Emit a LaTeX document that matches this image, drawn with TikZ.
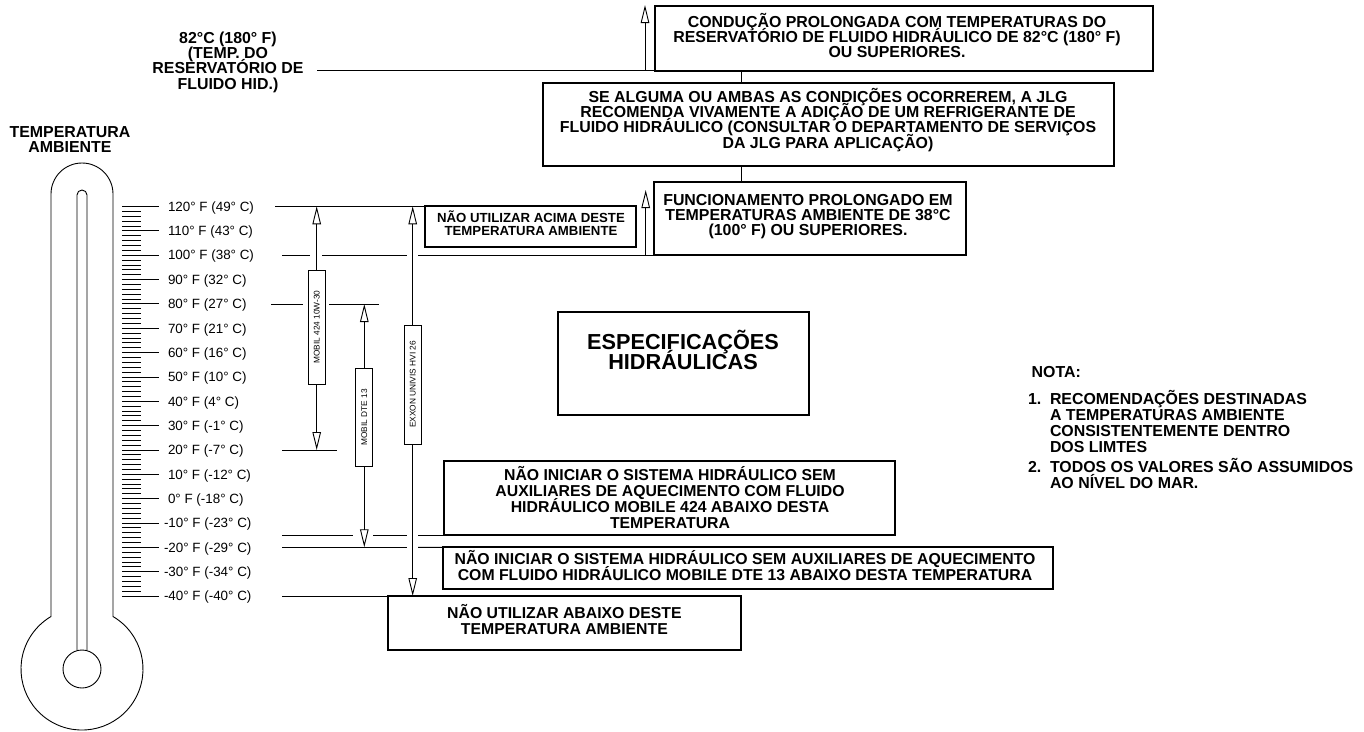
\documentclass[tikz,border=0pt]{standalone}
\usepackage{fontspec}
\setmainfont{Liberation Sans}
\usetikzlibrary{arrows.meta,fit}
\newcommand\mylsl{\lineskiplimit -30pt\relax}
\begin{document}
\begin{tikzpicture}[x=1pt,y=-1pt,
  every node/.style={inner sep=0pt, outer sep=0pt},
  bx/.style={draw, line width=2pt},
  ln/.style={line width=0.9pt},
  tip/.style={-{Triangle[open,length=18pt,width=8.5pt]}},
  dtip/.style={{Triangle[open,length=18pt,width=8.5pt]}-{Triangle[open,length=18pt,width=8.5pt]}},
  tA/.style={align=center, anchor=base, font=\bfseries\fontsize{15.9}{15.2}\selectfont\mylsl},
  tB/.style={align=center, anchor=base, font=\bfseries\fontsize{15.8}{15.8}\selectfont\mylsl},
  tC/.style={align=center, anchor=base, font=\bfseries\fontsize{13.2}{13.4}\selectfont\mylsl},
  tD/.style={align=center, anchor=base, font=\bfseries\fontsize{21.7}{20}\selectfont\mylsl},
  tE/.style={align=center, anchor=base, font=\bfseries\fontsize{15.9}{15.3}\selectfont\mylsl},
  tN/.style={align=left, anchor=base west, font=\bfseries\fontsize{15.9}{16}\selectfont\mylsl},
  lab/.style={anchor=base west, font=\fontsize{13.4}{14}\selectfont},
  vb/.style={draw, line width=0.9pt, fill=white, rotate=90, minimum height=17pt, font=\fontsize{8.3}{9}\selectfont},
]
\useasboundingbox (0,0) rectangle (1364,731);

% thermometer
\draw[ln] (51,616.5) -- (51,194) arc[start angle=180,end angle=360,radius=31]
  -- (113,616.5) arc[start angle=-59.45,end angle=239.45,radius=61] -- cycle;
\draw[ln] (77,650.7) -- (77,195) arc[start angle=180,end angle=360,radius=5] -- (87,650.7);
\draw[ln] (82,669) circle[radius=19];

% ticks
\foreach \t in {-40,-38,...,120}{
  \pgfmathsetmacro\yy{206.5+(120-\t)*2.4344}
  \pgfmathsetmacro\xe{mod(\t,10)==0 ? 159 : 141}
  \draw[line width=0.8pt] (122,\yy) -- (\xe,\yy);
}
% scale labels
\foreach \t/\nm/\txt/\xo in {
  120/a/{120° F (49° C)}/168, 110/b/{110° F (43° C)}/168, 100/c/{100° F (38° C)}/168,
  90/d/{90° F (32° C)}/168, 80/e/{80° F (27° C)}/168, 70/f/{70° F (21° C)}/168,
  60/g/{60° F (16° C)}/168, 50/h/{50° F (10° C)}/168, 40/i/{40° F (4° C)}/168,
  30/j/{30° F (-1° C)}/168, 20/k/{20° F (-7° C)}/168, 10/l/{10° F (-12° C)}/168,
  0/m/{0° F (-18° C)}/168, -10/n/{-10° F (-23° C)}/164, -20/o/{-20° F (-29° C)}/164,
  -30/p/{-30° F (-34° C)}/164, -40/q/{-40° F (-40° C)}/164}{
  \pgfmathsetmacro\yy{206.5+(120-\t)*2.4344}
  \node[lab] (s\nm) at (\xo,\yy+4.8) {\txt};
}

% titles (base anchor = baseline of the last line)
\node[tE] (amb) at (70,152.4) {TEMPERATURA\\AMBIENTE};
\node[tE] (resv) at (228,89) {82°C (180° F)\\(TEMP. DO\\RESERVATÓRIO DE\\FLUIDO HID.)};

% boxes
\node[bx, fit={(655,6) (1153,70.7)}] (cond) {};
\node[tA] (condt) at (897,57.8) {CONDUÇÃO PROLONGADA COM TEMPERATURAS DO\\RESERVATÓRIO DE FLUIDO HIDRÁULICO DE 82°C (180° F)\\OU SUPERIORES.};
\node[bx, fit={(543,83.3) (1114,166)}] (seal) {};
\node[tA] (sealt) at (828,148) {SE ALGUMA OU AMBAS AS CONDIÇÕES OCORREREM, A JLG\\RECOMENDA VIVAMENTE A ADIÇÃO DE UM REFRIGERANTE DE\\FLUIDO HIDRÁULICO (CONSULTAR O DEPARTAMENTO DE SERVIÇOS\\DA JLG PARA APLICAÇÃO)};
\node[bx, fit={(654,181.7) (965.5,255)}] (func) {};
\node[tA] (funct) at (808,235.7) {FUNCIONAMENTO PROLONGADO EM\\TEMPERATURAS AMBIENTE DE 38°C\\(100° F) OU SUPERIORES.};
\node[bx, fit={(425,206.3) (636,246.7)}] (acima) {};
\node[tC] (acimat) at (531,235.4) {NÃO UTILIZAR ACIMA DESTE\\TEMPERATURA AMBIENTE};
\node[bx, fit={(558,311.7) (809,415)}] (espec) {};
\node[tD] (espect) at (683,369.5) {ESPECIFICAÇÕES\\HIDRÁULICAS};
\node[bx, fit={(444,461) (895,535)}] (ini4) {};
\node[tB] (ini4t) at (670,528.1) {NÃO INICIAR O SISTEMA HIDRÁULICO SEM\\AUXILIARES DE AQUECIMENTO COM FLUIDO\\HIDRÁULICO MOBILE 424 ABAIXO DESTA\\TEMPERATURA};
\node[bx, fit={(442.7,547.3) (1053,589)}] (inid) {};
\node[tB] (inidt) at (745,580) {NÃO INICIAR O SISTEMA HIDRÁULICO SEM AUXILIARES DE AQUECIMENTO\\COM FLUIDO HIDRÁULICO MOBILE DTE 13 ABAIXO DESTA TEMPERATURA};
\node[bx, fit={(388,596) (741,650)}] (abx) {};
\node[tB] (abxt) at (564.4,634.5) {NÃO UTILIZAR ABAIXO DESTE\\TEMPERATURA AMBIENTE};

% note
\node[tN] (nota) at (1031.7,377.4) {NOTA:};
\node[tN] (n1) at (1028,404.7) {1.};
\node[tN] (n1t) at (1050,452.7) {RECOMENDAÇÕES DESTINADAS\\A TEMPERATURAS AMBIENTE\\CONSISTENTEMENTE DENTRO\\DOS LIMTES};
\node[tN] (n2) at (1028,472.7) {2.};
\node[tN] (n2t) at (1050,488.7) {TODOS OS VALORES SÃO ASSUMIDOS\\AO NÍVEL DO MAR.};

% connectors in the upper right
\coordinate (cx) at (741.7,0);
\draw[ln] (cx |- cond.south) -- (cx |- seal.north);
\draw[ln] (cx |- seal.south) -- (cx |- func.north);
\coordinate (r0) at (317,70.7);
\draw[ln] (r0) -- (cond.south west);
\coordinate (ca0) at (645,70.7);
\coordinate (ca1) at (645,5);
\draw[ln,tip] (ca0) -- (ca1);
\coordinate (fa0) at (645.7,255);
\coordinate (fa1) at (645.7,190);
\draw[ln,tip] (fa0) -- (fa1);

% horizontal reference lines
\coordinate (h120) at (275,206.3);
\draw[ln] (h120) -- (acima.north west);
\coordinate (h100a) at (282,255); \coordinate (h100b) at (310,255);
\coordinate (h100c) at (322,255); \coordinate (h100d) at (407,255);
\coordinate (h100e) at (418,255);
\draw[ln] (h100a) -- (h100b);
\draw[ln] (h100c) -- (h100d);
\draw[ln] (h100e) -- (func.south west);
\coordinate (h80a) at (271,304); \coordinate (h80b) at (303,304);
\coordinate (h80c) at (329,304); \coordinate (h80d) at (379,304);
\draw[ln] (h80a) -- (h80b);
\draw[ln] (h80c) -- (h80d);
\coordinate (h20a) at (282,450); \coordinate (h20b) at (337,450);
\draw[ln] (h20a) -- (h20b);
\coordinate (h15a) at (282,535); \coordinate (h15b) at (353,535);
\coordinate (h15c) at (373,535); \coordinate (h15d) at (407,535);
\coordinate (h15e) at (418,535);
\draw[ln] (h15a) -- (h15b);
\draw[ln] (h15c) -- (h15d);
\draw[ln] (h15e) -- (ini4.south west);
\coordinate (h20na) at (282,547.3); \coordinate (h20nb) at (407,547.3);
\coordinate (h20nc) at (418,547.3);
\draw[ln] (h20na) -- (h20nb);
\draw[ln] (h20nc) -- (inid.north west);
\coordinate (h40a) at (282,596);
\draw[ln] (h40a) -- (abx.north west);

% dimension arrows with oil labels
\coordinate (m4t) at (316.7,206.3); \coordinate (m4b) at (316.7,450);
\draw[ln,dtip] (m4t) -- (m4b);
\node[vb, minimum width=114pt] (m424) at (316.7,327) {MOBIL 424 10W-30};
\coordinate (mdt) at (364.3,304); \coordinate (mdb) at (364.3,547.3);
\draw[ln,dtip] (mdt) -- (mdb);
\node[vb, minimum width=98.7pt] (mdte) at (364.3,417.3) {MOBIL DTE 13};
\coordinate (ext) at (412.7,206.3); \coordinate (exb) at (412.7,596);
\draw[ln,dtip] (ext) -- (exb);
\node[vb, minimum width=119pt] (exx) at (412.7,384.5) {EXXON UNIVIS HVI 26};
\end{tikzpicture}
\end{document}
